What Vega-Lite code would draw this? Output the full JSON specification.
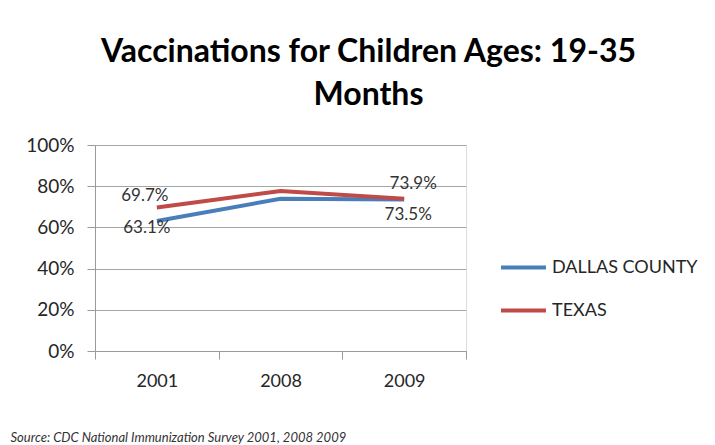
{
  "$schema": "https://vega.github.io/schema/vega-lite/v6.json",
  "width": 371,
  "height": 206,
  "autosize": {"type": "none"},
  "padding": {"left": 95, "top": 145, "right": 249, "bottom": 94},
  "background": "white",
  "title": {
    "text": ["Vaccinations for Children Ages: 19-35", "Months"],
    "font": "Lato",
    "fontSize": 32,
    "fontWeight": "bold",
    "color": "#000000",
    "anchor": "middle",
    "frame": "group",
    "dx": 88,
    "lineHeight": 43,
    "baseline": "alphabetic",
    "offset": -1
  },
  "data": {
    "values": [
      {"year": "2001", "series": "DALLAS COUNTY", "value": 0.631},
      {"year": "2008", "series": "DALLAS COUNTY", "value": 0.739},
      {"year": "2009", "series": "DALLAS COUNTY", "value": 0.735},
      {"year": "2001", "series": "TEXAS", "value": 0.697},
      {"year": "2008", "series": "TEXAS", "value": 0.777},
      {"year": "2009", "series": "TEXAS", "value": 0.739}
    ]
  },
  "encoding": {
    "x": {
      "field": "year",
      "type": "ordinal",
      "scale": {"paddingInner": 0, "paddingOuter": 0},
      "axis": {
        "title": "Source: CDC National Immunization Survey 2001, 2008 2009",
        "titleFont": "Lato",
        "titleFontSize": 13,
        "titleFontStyle": "italic",
        "titleFontWeight": "normal",
        "titleColor": "#333333",
        "titleAnchor": "start",
        "titleAlign": "left",
        "titleBaseline": "middle",
        "titleX": -85,
        "titleY": 86,
        "labelAngle": 0,
        "labelFont": "Lato",
        "labelFontSize": 18,
        "labelColor": "#262626",
        "labelPadding": 13,
        "tickBand": "extent",
        "tickSize": 8,
        "tickColor": "#9a9a9a",
        "domainColor": "#9a9a9a",
        "grid": false
      }
    },
    "y": {
      "field": "value",
      "type": "quantitative",
      "scale": {"domain": [0, 1]},
      "axis": {
        "title": null,
        "format": ".0%",
        "values": [0, 0.2, 0.4, 0.6, 0.8, 1],
        "labelFont": "Lato",
        "labelFontSize": 19,
        "labelColor": "#262626",
        "labelPadding": 13,
        "tickSize": 8,
        "tickColor": "#9a9a9a",
        "domainColor": "#9a9a9a",
        "gridColor": "#a6a6a6",
        "grid": true
      }
    }
  },
  "layer": [
    {
      "mark": {"type": "line", "strokeWidth": 4},
      "encoding": {
        "color": {
          "field": "series",
          "type": "nominal",
          "scale": {"domain": ["DALLAS COUNTY", "TEXAS"], "range": ["#4A7EBB", "#BE4B48"]},
          "legend": {
            "title": null,
            "orient": "none",
            "legendX": 404,
            "legendY": 98,
            "padding": 0,
            "symbolType": "stroke",
            "symbolSize": 2025,
            "symbolStrokeWidth": 4,
            "labelFont": "Lato",
            "labelFontSize": 18,
            "labelColor": "#262626",
            "labelOffset": 4,
            "rowPadding": 9
          }
        }
      }
    },
    {
      "transform": [{"filter": "datum.series == 'TEXAS' && datum.year == '2001'"}],
      "mark": {"type": "text", "font": "Lato", "fontSize": 17, "color": "#333333", "dx": -12, "dy": -11},
      "encoding": {"text": {"field": "value", "type": "quantitative", "format": ".1%"}}
    },
    {
      "transform": [{"filter": "datum.series == 'DALLAS COUNTY' && datum.year == '2001'"}],
      "mark": {"type": "text", "font": "Lato", "fontSize": 17, "color": "#333333", "dx": -10, "dy": 7},
      "encoding": {"text": {"field": "value", "type": "quantitative", "format": ".1%"}}
    },
    {
      "transform": [{"filter": "datum.series == 'TEXAS' && datum.year == '2009'"}],
      "mark": {"type": "text", "font": "Lato", "fontSize": 17, "color": "#333333", "dx": 9, "dy": -15},
      "encoding": {"text": {"field": "value", "type": "quantitative", "format": ".1%"}}
    },
    {
      "transform": [{"filter": "datum.series == 'DALLAS COUNTY' && datum.year == '2009'"}],
      "mark": {"type": "text", "font": "Lato", "fontSize": 17, "color": "#333333", "dx": 4, "dy": 15},
      "encoding": {"text": {"field": "value", "type": "quantitative", "format": ".1%"}}
    }
  ]
}
